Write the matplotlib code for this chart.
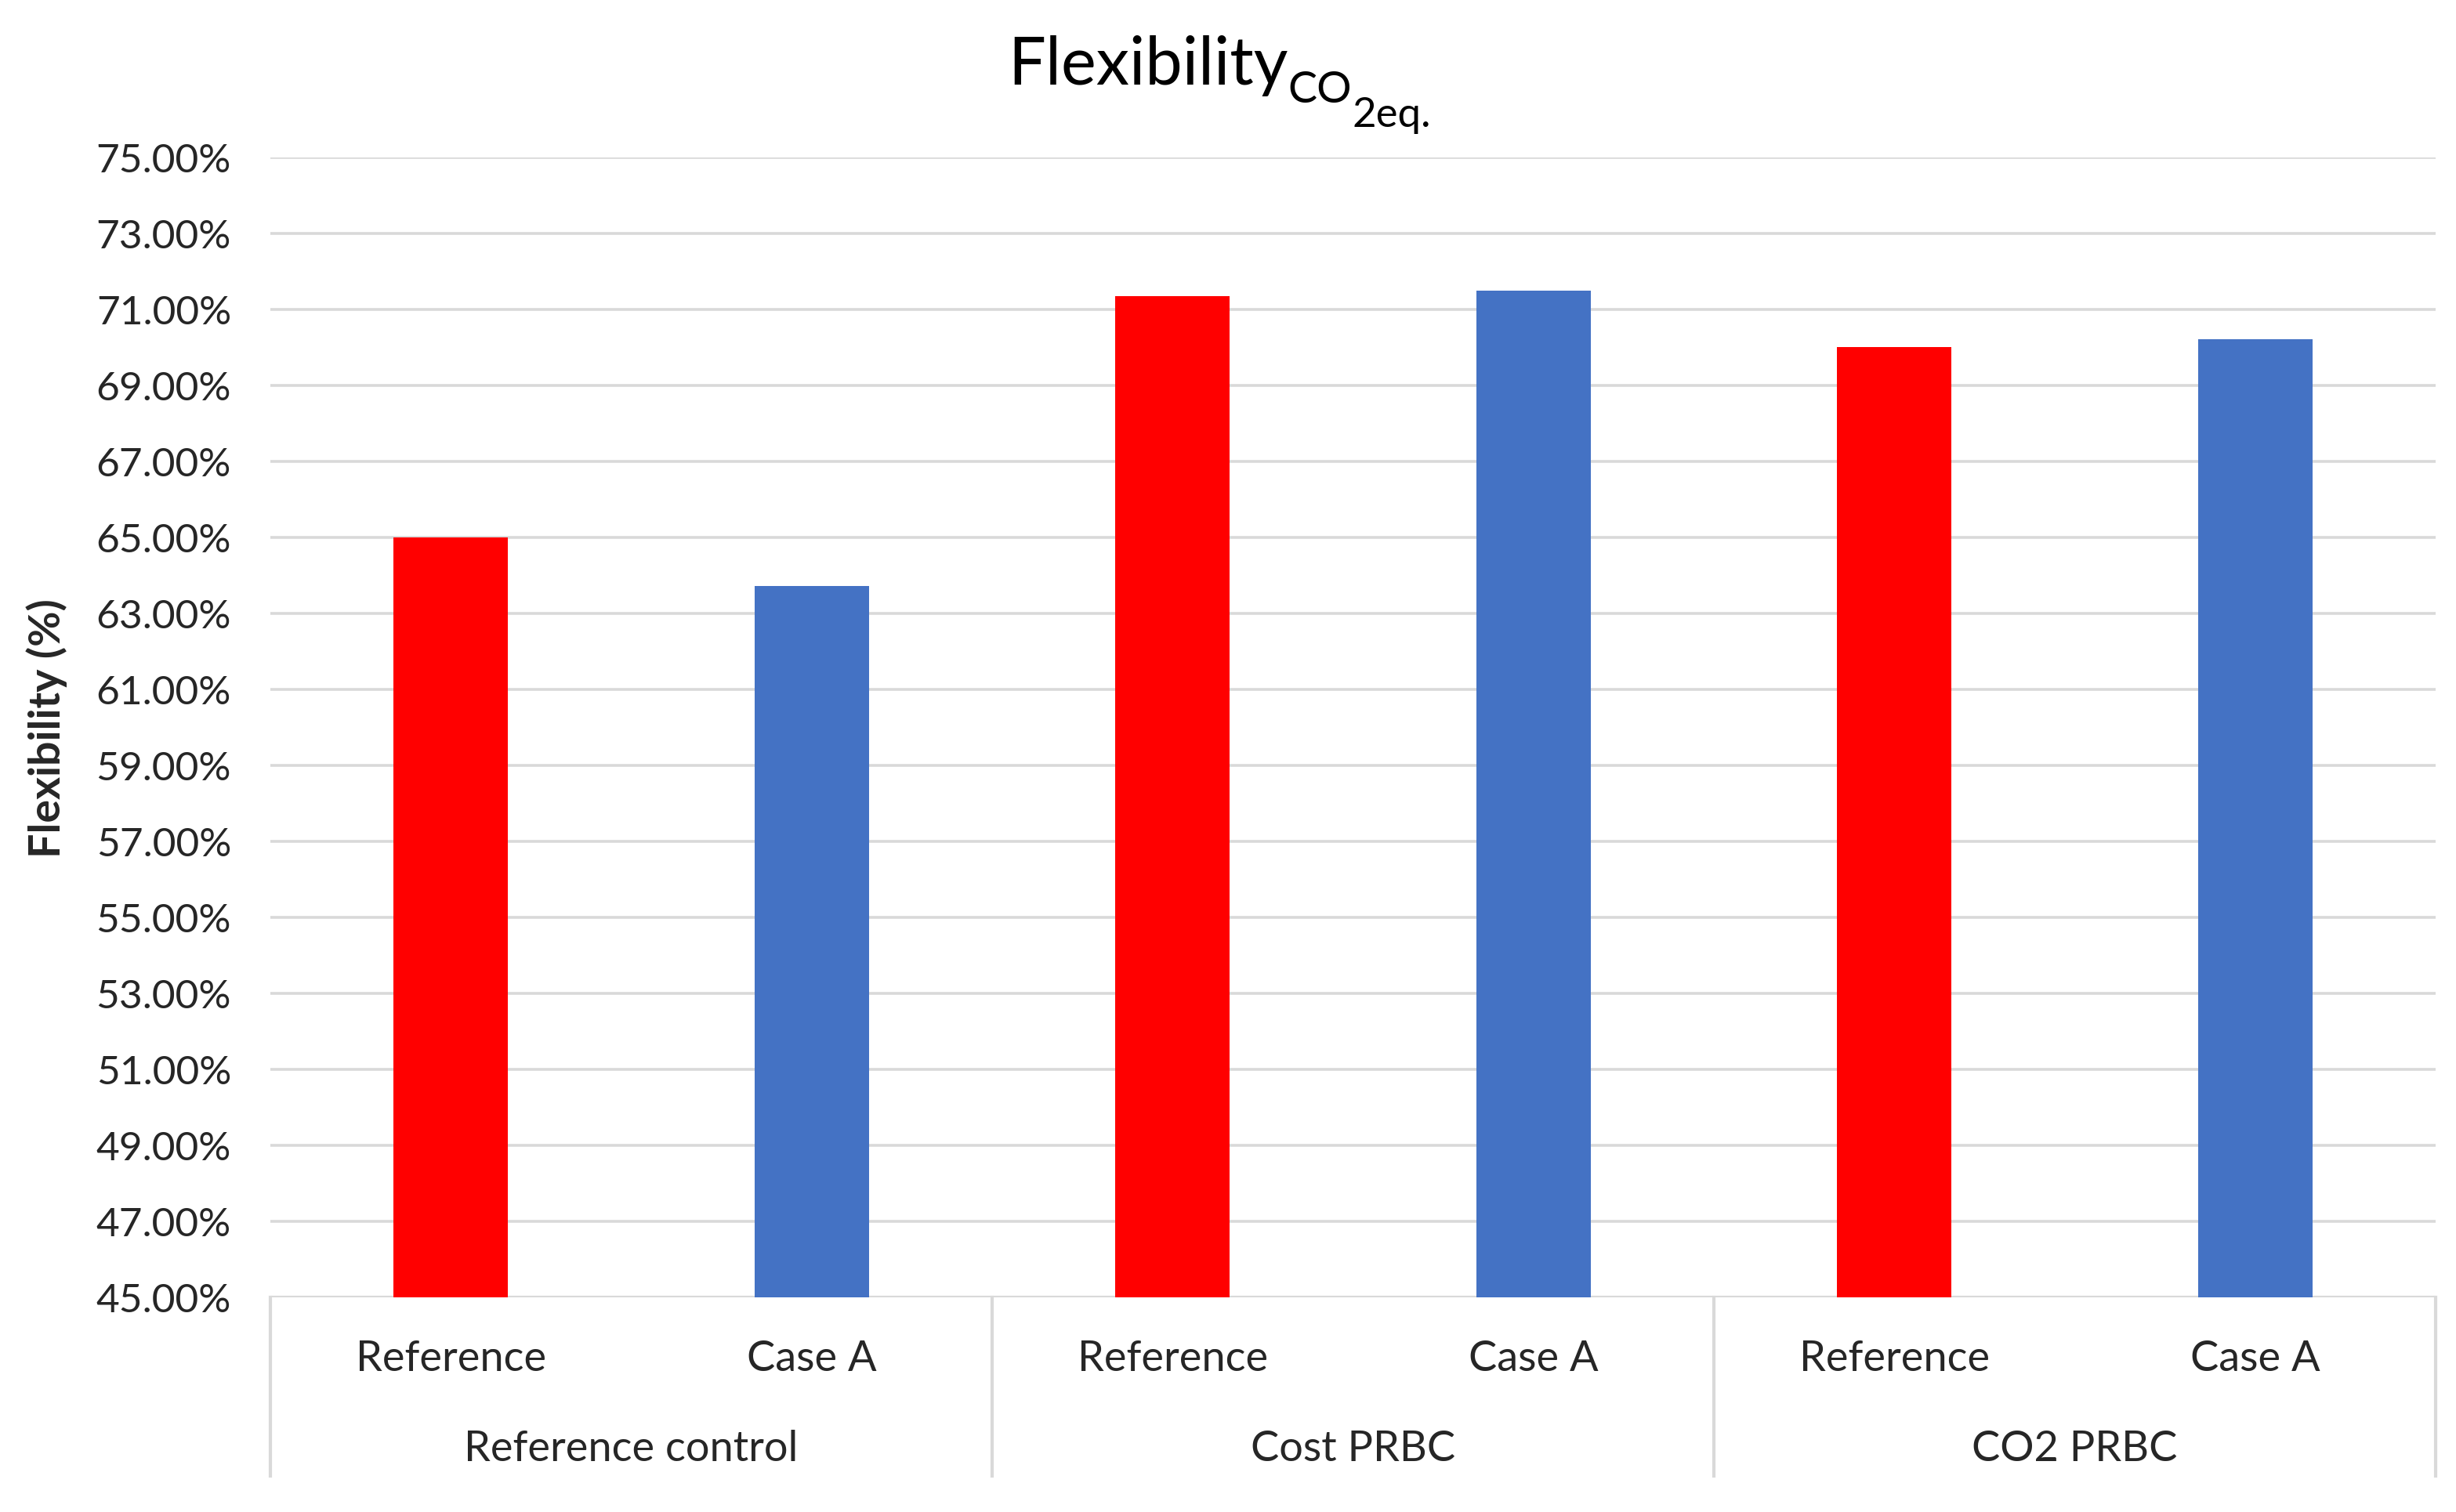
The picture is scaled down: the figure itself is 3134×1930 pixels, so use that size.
import matplotlib
matplotlib.use("Agg")
import matplotlib.pyplot as plt
from matplotlib.ticker import FuncFormatter
import numpy as np

groups = ["Reference control", "Cost PRBC", "CO2 PRBC"]
cases = ["Reference", "Case A"]
reference_vals = [65.00, 71.36, 70.02]
case_a_vals = [63.73, 71.49, 70.22]
y_ticks = list(range(45, 77, 2))

plt.rcParams['font.family'] = ['Lato', 'DejaVu Sans']

W, H = 3134, 1931
fig = plt.figure(figsize=(W / 200, H / 200), dpi=200)
ax = fig.add_axes([345 / W, 1 - 1657 / H, (3108 - 345) / W, (1657 - 202) / H])

# interleave the two series: ref, case A, ref, case A ...
vals = []
colors = []
for r, c in zip(reference_vals, case_a_vals):
    vals += [r, c]
    colors += ['#FF0000', '#4472C4']
x = np.arange(len(vals))
ax.bar(x, np.array(vals) - 45, bottom=45, width=0.316, color=colors, zorder=3)

ax.set_ylim(45, 75)
ax.set_xlim(-0.5, len(vals) - 0.5)
ax.set_yticks(y_ticks)
ax.yaxis.set_major_formatter(FuncFormatter(lambda v, p: f"{v:.2f}%"))
ax.tick_params(axis='y', length=0, pad=18, labelsize=18.5, labelcolor='#262626')
ax.set_xticks([])
ax.grid(axis='y', color='#d9d9d9', linewidth=1.3, zorder=0)
for s in ax.spines.values():
    s.set_visible(False)
ax.axhline(45, color='#d9d9d9', linewidth=1.5, zorder=2)

# category and group labels under the axis
for i, xi in enumerate(x):
    ax.text(xi, -0.053, cases[i % 2], transform=ax.get_xaxis_transform(),
            ha='center', va='center', fontsize=19.5, color='#262626')
for g, name in enumerate(groups):
    ax.text(2 * g + 0.5, -0.1326, name, transform=ax.get_xaxis_transform(),
            ha='center', va='center', fontsize=19.5, color='#262626')
for xs in [-0.5, 1.5, 3.5, 5.5]:
    ax.plot([xs, xs], [0, -0.157], transform=ax.get_xaxis_transform(),
            color='#d9d9d9', linewidth=1.5, clip_on=False)

fig.text(60 / W, 1 - 930 / H, "Flexibility (%)", rotation=90, ha='center', va='center',
         fontsize=20, fontweight='bold', color='#262626')

# title with nested subscripts, built from pieces
renderer = fig.canvas.get_renderer()
parts = [("Flexibility", 30.5, 108), ("CO", 20, 131), ("2eq.", 19, 162)]
texts = []
for s, size, base in parts:
    t = fig.text(0, 1 - base / H, s, fontsize=size, ha='left', va='baseline', color='black')
    texts.append(t)
widths = [t.get_window_extent(renderer).width for t in texts]
xpos = 1556 - sum(widths) / 2
for t, w in zip(texts, widths):
    t.set_x(xpos / W)
    xpos += w

fig.savefig("out.png", dpi=200, facecolor='white')
